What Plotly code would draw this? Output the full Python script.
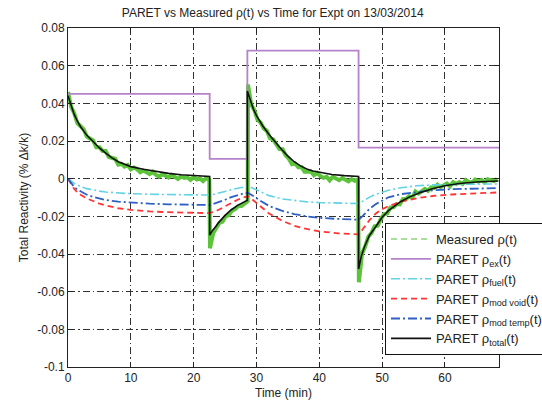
import numpy as np
import plotly.graph_objects as go

# ---------------- data ----------------
# PARET inserted (excess) reactivity: step changes, held until next time
ex_t = [0.0, 22.55, 28.55, 46.25, 68.6]
ex_v = [0.045, 0.0105, 0.068, 0.0165, 0.0165]

# PARET feedback components on a common time grid (min)
fb_t = [0, 0.5, 1, 1.5, 2, 3, 4, 5, 6, 8, 10, 13, 16, 19, 22.5,
        23, 24, 25, 26, 27, 28, 28.6,
        29, 29.5, 30.5, 32, 34, 36, 38, 40, 43, 46.3,
        47, 48, 49, 50, 51, 53, 55.5, 58, 61, 65, 68.5]
fuel_v = [0, -0.0014, -0.0025, -0.0034, -0.0042, -0.0053, -0.0061, -0.0066, -0.0071, -0.0077, -0.0080, -0.0083, -0.0085, -0.0086, -0.0087,
          -0.0085, -0.0078, -0.0068, -0.0058, -0.0050, -0.0043, -0.0040,
          -0.0044, -0.0052, -0.0068, -0.0090, -0.0107, -0.0117, -0.0123, -0.0127, -0.0130, -0.0132,
          -0.0118, -0.0098, -0.0083, -0.0071, -0.0062, -0.0048, -0.0038, -0.0033, -0.0030, -0.0029, -0.0028]
void_v = [0, -0.0030, -0.0055, -0.0072, -0.0085, -0.0105, -0.0120, -0.0132, -0.0142, -0.0157, -0.0166, -0.0174, -0.0178, -0.0181, -0.0183,
          -0.0178, -0.0165, -0.0147, -0.0128, -0.0112, -0.0099, -0.0093,
          -0.0101, -0.0115, -0.0145, -0.0185, -0.0222, -0.0250, -0.0267, -0.0280, -0.0290, -0.0296,
          -0.0265, -0.0220, -0.0185, -0.0162, -0.0146, -0.0122, -0.0104, -0.0092, -0.0084, -0.0078, -0.0073]
temp_v = [0, -0.0025, -0.0045, -0.0058, -0.0068, -0.0085, -0.0097, -0.0106, -0.0113, -0.0122, -0.0128, -0.0133, -0.0136, -0.0138, -0.0140,
          -0.0136, -0.0125, -0.0112, -0.0098, -0.0087, -0.0078, -0.0075,
          -0.0081, -0.0092, -0.0115, -0.0145, -0.0170, -0.0188, -0.0200, -0.0208, -0.0214, -0.0218,
          -0.0195, -0.0160, -0.0135, -0.0115, -0.0099, -0.0082, -0.0070, -0.0062, -0.0056, -0.0052, -0.0050]

# PARET total reactivity
total_t = [0, 0.5, 1, 1.5, 2, 3, 4, 5, 6, 7, 8, 9, 10, 12, 14, 16, 18, 20, 22.55,
           22.55, 23, 23.5, 24, 25, 26, 27, 28, 28.55,
           28.55, 29, 29.5, 30, 31, 32, 33, 34, 35, 36, 37, 38, 39, 40, 42, 44, 46.25,
           46.25, 46.7, 47.2, 48, 49, 50, 51, 52, 53, 54.3, 56, 58, 60, 62.3, 65, 68.5]
total_v = [0.044, 0.0385, 0.0340, 0.0305, 0.0276, 0.0230, 0.0195, 0.0163, 0.0136, 0.0110, 0.0090, 0.0075, 0.0064, 0.0050, 0.0038, 0.0028, 0.0021, 0.0016, 0.0012,
           -0.030, -0.0275, -0.0255, -0.0232, -0.0195, -0.0165, -0.0142, -0.0125, -0.0115,
           0.0465, 0.0420, 0.0370, 0.0335, 0.0280, 0.0235, 0.0192, 0.0155, 0.0120, 0.0090, 0.0068, 0.0051, 0.0041, 0.0034, 0.0022, 0.0016, 0.0012,
           -0.048, -0.041, -0.036, -0.030, -0.0254, -0.0205, -0.0170, -0.0143, -0.0121, -0.0098, -0.0075, -0.0053, -0.0038, -0.0026, -0.0018, -0.0012]

# Measured reactivity, sampled every 0.5 min within each transient
meas_step = 0.5
meas_start = [0.0, 22.6, 28.65, 46.3]
meas_seg1 = [0.0460, 0.0381, 0.0346, 0.0294, 0.0278, 0.0262, 0.0223, 0.0210, 0.0203, 0.0167,
             0.0167, 0.0147, 0.0147, 0.0115, 0.0111, 0.0106, 0.0074, 0.0079, 0.0064, 0.0072,
             0.0049, 0.0059, 0.0050, 0.0034, 0.0043, 0.0035, 0.0024, 0.0037, 0.0020, 0.0011,
             0.0024, 0.0016, 0.0006, 0.0020, 0.0007, -0.0002, 0.0013, 0.0004, 0.0007, -0.0006,
             0.0009, -0.0004, 0.0001, -0.0013, 0.0003, -0.0008]
meas_seg2 = [-0.0370, -0.0290, -0.0262, -0.0235, -0.0228, -0.0200, -0.0194, -0.0170, -0.0162,
             -0.0146, -0.0145, -0.0130, -0.0120]
meas_seg3 = [0.0500, 0.0395, 0.0365, 0.0313, 0.0298, 0.0267, 0.0254, 0.0214, 0.0208, 0.0182,
             0.0157, 0.0156, 0.0123, 0.0106, 0.0077, 0.0081, 0.0061, 0.0062, 0.0037, 0.0037,
             0.0038, 0.0018, 0.0031, 0.0014, 0.0004, 0.0010, -0.0009, 0.0010, -0.0002, -0.0008,
             0.0003, -0.0004, -0.0015, -0.0002, -0.0011, -0.0006]
meas_seg4 = [-0.0550, -0.0398, -0.0361, -0.0308, -0.0289, -0.0253, -0.0250, -0.0213, -0.0189,
             -0.0185, -0.0153, -0.0152, -0.0135, -0.0137, -0.0108, -0.0109, -0.0093, -0.0101,
             -0.0068, -0.0079, -0.0067, -0.0054, -0.0065, -0.0046, -0.0049, -0.0032, -0.0045,
             -0.0032, -0.0025, -0.0040, -0.0018, -0.0028, -0.0018, -0.0028, -0.0008, -0.0018,
             -0.0021, -0.0005, -0.0016, -0.0007, -0.0021, -0.0003, -0.0008, -0.0013, -0.0001]

y_tickvals = [-0.1, -0.08, -0.06, -0.04, -0.02, 0, 0.02, 0.04, 0.06, 0.08]
y_ticktext = ["-0.1", "-0.08", "-0.06", "-0.04", "-0.02", "0", "0.02", "0.04", "0.06", "0.08"]
x_tickvals = [0, 10, 20, 30, 40, 50, 60]

meas_t, meas_v = [], []
for start, seg in zip(meas_start, [meas_seg1, meas_seg2, meas_seg3, meas_seg4]):
    meas_t.extend((start + meas_step * np.arange(len(seg))).tolist())
    meas_v.extend(seg)

# ---------------- figure ----------------
FONT = "Liberation Sans, Arial, Helvetica, sans-serif"
GREEN = "#5cc43a"
PURPLE = "#b583c9"
CYAN = "#62d3e3"
RED = "#ff3434"
BLUE = "#2e5fc4"

fig = go.Figure()

# measured signal (solid band) + dashed legend key
fig.add_trace(go.Scatter(x=meas_t, y=meas_v, mode="lines", showlegend=False,
                         line=dict(color=GREEN, width=4), hoverinfo="skip"))
fig.add_trace(go.Scatter(x=[None], y=[None], mode="lines", name="Measured ρ(t)",
                         line=dict(color="#8fd47a", width=1.5, dash="6px,4px")))
fig.add_trace(go.Scatter(x=ex_t, y=ex_v, mode="lines", line_shape="hv",
                         name="PARET ρ<sub>ex</sub>(t)",
                         line=dict(color=PURPLE, width=1.8)))
fig.add_trace(go.Scatter(x=fb_t, y=fuel_v, mode="lines", name="PARET ρ<sub>fuel</sub>(t)",
                         line=dict(color=CYAN, width=1.6, dash="9px,3px,2px,3px")))
fig.add_trace(go.Scatter(x=fb_t, y=void_v, mode="lines", name="PARET ρ<sub>mod void</sub>(t)",
                         line=dict(color=RED, width=1.8, dash="6px,4px")))
fig.add_trace(go.Scatter(x=fb_t, y=temp_v, mode="lines", name="PARET ρ<sub>mod temp</sub>(t)",
                         line=dict(color=BLUE, width=1.8, dash="9px,3px,2px,3px")))
fig.add_trace(go.Scatter(x=total_t, y=total_v, mode="lines", name="PARET ρ<sub>total</sub>(t)",
                         line=dict(color="#111111", width=1.6)))

axis_common = dict(
    showline=True, linecolor="#222222", linewidth=1, mirror="ticks",
    ticks="inside", ticklen=5, tickcolor="#222222",
    showgrid=True, gridcolor="#333333", gridwidth=0.8, griddash="7px,3px,1.5px,3px",
    zeroline=False, tickfont=dict(family=FONT, size=12, color="#222222"),
)

fig.update_layout(
    width=542, height=404,
    margin=dict(l=68, r=43, t=28, b=37, autoexpand=False),
    paper_bgcolor="white", plot_bgcolor="white",
    font=dict(family=FONT, size=12, color="#222222"),
    title=dict(text="PARET vs Measured ρ(t) vs Time for Expt on 13/03/2014",
               x=0.475, xref="paper", y=1 - 13 / 404, yref="container",
               xanchor="center", yanchor="middle",
               font=dict(family=FONT, size=12, color="#222222")),
    xaxis=dict(range=[0, 68.6], tickvals=x_tickvals,
               title=dict(text="Time (min)", font=dict(family=FONT, size=12), standoff=4),
               **axis_common),
    yaxis=dict(range=[-0.1, 0.08], tickvals=y_tickvals, ticktext=y_ticktext,
               title=dict(text="Total Reactivity (% Δk/k)", font=dict(family=FONT, size=12), standoff=6),
               **axis_common),
    legend=dict(x=0.7355, y=0.425, xanchor="left", yanchor="top",
                bgcolor="white", bordercolor="#111111", borderwidth=1,
                font=dict(family=FONT, size=13, color="#222222"),
                itemwidth=40, tracegroupgap=0),
    showlegend=True,
)

fig.write_html("out.html")
